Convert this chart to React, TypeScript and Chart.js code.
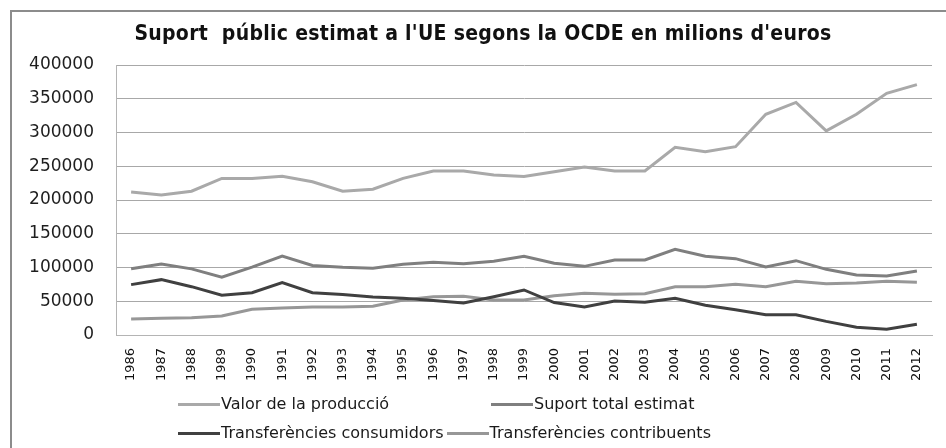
import React, { useEffect, useRef } from "react";
import { Chart, registerables } from "chart.js";

Chart.register(...registerables);

const years = [
  "1986", "1987", "1988", "1989", "1990", "1991", "1992", "1993", "1994",
  "1995", "1996", "1997", "1998", "1999", "2000", "2001", "2002", "2003",
  "2004", "2005", "2006", "2007", "2008", "2009", "2010", "2011", "2012",
];

const valorProduccio = [
  212000, 207500, 213000, 232000, 232000, 235000, 227000, 213000, 216000,
  232000, 243000, 243000, 237000, 235000, 242000, 249000, 243000, 243000,
  278000, 271500, 279000, 327000, 344500, 302500, 327000, 358000, 371000,
];

const suportTotal = [
  98000, 105000, 98000, 85500, 100500, 117000, 103000, 100300, 99000,
  104700, 107700, 105700, 109200, 116600, 106200, 101700, 111100, 111100,
  127000, 116600, 113100, 100700, 110100, 97300, 88900, 87400, 94800,
];

const transfConsumidors = [
  74600, 82000, 71600, 58800, 62700, 77500, 62700, 60000, 56300,
  54500, 51000, 47500, 56800, 66700, 48000, 41500, 50400, 48400,
  54300, 44000, 37500, 30100, 30100, 20200, 11400, 8400, 15800,
];

const transfContribuents = [
  23700, 24700, 25700, 28100, 38000, 40000, 41500, 41500, 42500,
  51900, 56800, 57300, 51900, 51900, 58300, 61700, 60200, 61200,
  71600, 71600, 75100, 71600, 79500, 76100, 77000, 79500, 78100,
];

const yTicksMax = 400000;
const yTicksStep = 50000;

const seriesNames = [
  "Valor de la producció",
  "Suport total estimat",
  "Transferències consumidors",
  "Transferències contribuents",
];
const seriesColors = ["#a9a9a9", "#7f7f7f", "#404040", "#979797"];

const titleText = "Suport  públic estimat a l'UE segons la OCDE en milions d'euros";

export default function App() {
  const ref = useRef<HTMLCanvasElement | null>(null);

  useEffect(() => {
    if (!ref.current) return;
    const seriesData = [valorProduccio, suportTotal, transfConsumidors, transfContribuents];
    const chart = new Chart(ref.current, {
      type: "line",
      data: {
        labels: years,
        datasets: seriesData.map((d, i) => ({
          label: seriesNames[i],
          data: d,
          borderColor: seriesColors[i],
          backgroundColor: seriesColors[i],
          borderWidth: 3,
          pointRadius: 0,
          tension: 0,
          fill: false,
        })),
      },
      options: {
        animation: false,
        responsive: false,
        maintainAspectRatio: false,
        layout: { padding: { top: 65, right: 14, bottom: 63, left: 0 } },
        plugins: {
          legend: { display: false },
          title: { display: false },
          tooltip: { enabled: false },
        },
        scales: {
          x: {
            offset: true,
            grid: { display: false, drawTicks: false },
            border: { display: true, color: "#b4b4b4", width: 1 },
            ticks: {
              autoSkip: false,
              minRotation: 90,
              maxRotation: 90,
              padding: 13,
              color: "#111",
              font: { family: "'DejaVu Sans', sans-serif", size: 13 },
            },
            afterFit: (s: any) => {
              s.height = 50;
            },
          },
          y: {
            min: 0,
            max: yTicksMax,
            grid: { color: "#a8a8a8", drawTicks: false, lineWidth: 1 },
            border: { display: true, color: "#b4b4b4", width: 1 },
            ticks: {
              stepSize: yTicksStep,
              padding: 22,
              color: "#1e1e1e",
              font: { family: "'DejaVu Sans', sans-serif", size: 17 },
              callback: (v: any) => String(v),
            },
            afterFit: (s: any) => {
              s.width = 116;
            },
          },
        },
      },
    });
    return () => chart.destroy();
  }, []);

  const legendFont = "'DejaVu Sans', sans-serif";

  const item = (i: number) => (
    <div style={{ display: "flex", alignItems: "center", whiteSpace: "nowrap" }}>
      <span
        style={{
          display: "inline-block",
          width: 42,
          height: 3,
          background: seriesColors[i],
          marginRight: 1,
        }}
      />
      <span>{seriesNames[i]}</span>
    </div>
  );

  return (
    <div
      style={{
        position: "fixed",
        left: 0,
        top: 0,
        width: 946,
        height: 448,
        background: "#fff",
        overflow: "hidden",
      }}
    >
      <div
        style={{
          position: "absolute",
          left: 10,
          top: 10,
          width: 980,
          height: 480,
          border: "2px solid #8c8c8c",
          boxSizing: "border-box",
        }}
      />
      <canvas
        ref={ref}
        width={946}
        height={448}
        style={{ position: "absolute", left: 0, top: 0, width: 946, height: 448, display: "block" }}
      />
      <div
        style={{
          position: "absolute",
          left: 0,
          top: 21,
          width: 966,
          textAlign: "center",
          fontFamily: "'Liberation Sans Narrow', 'DejaVu Sans Condensed', sans-serif",
          fontWeight: "bold",
          fontSize: 21,
          letterSpacing: "0.3px",
          color: "#111",
          whiteSpace: "pre",
        }}
      >
        {titleText}
      </div>
      <div
        style={{
          position: "absolute",
          left: 178,
          top: 394,
          fontFamily: legendFont,
          fontSize: 16,
          color: "#1a1a1a",
          lineHeight: "20px",
        }}
      >
        <div style={{ display: "flex" }}>
          <div style={{ width: 313 }}>{item(0)}</div>
          {item(1)}
        </div>
        <div style={{ display: "flex", marginTop: 9 }}>
          {item(2)}
          <div style={{ width: 3 }} />
          {item(3)}
        </div>
      </div>
    </div>
  );
}
